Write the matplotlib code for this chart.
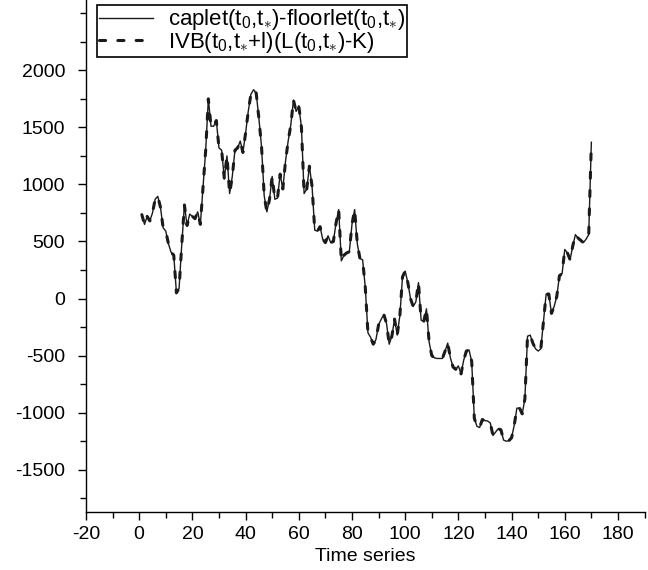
import matplotlib
matplotlib.use("Agg")
import matplotlib.pyplot as plt
import numpy as np

plt.rcParams['font.family'] = ['Liberation Sans', 'DejaVu Sans']
plt.rcParams['mathtext.fontset'] = 'custom'
plt.rcParams['mathtext.rm'] = 'Liberation Sans'
plt.rcParams['mathtext.it'] = 'Liberation Sans'
plt.rcParams['mathtext.default'] = 'rm'
plt.rcParams['axes.unicode_minus'] = False

# time index
t = np.arange(1, 171)

# caplet - floorlet values
caplet_floorlet = [
    735, 650, 720, 680, 750, 870, 895, 800, 620, 590,
    480, 405, 380, 50, 90, 470, 820, 640, 740, 720,
    700, 760, 650, 980, 1300, 1750, 1510, 1510, 1560, 1320,
    1300, 1050, 1250, 920, 1070, 1300, 1320, 1380, 1280, 1450,
    1640, 1790, 1830, 1800, 1580, 1330, 900, 760, 870, 1070,
    870, 880, 1090, 960, 1200, 1380, 1520, 1740, 1640, 1690,
    1500, 920, 960, 1160, 980, 600, 590, 630, 520, 490,
    550, 490, 500, 660, 780, 330, 380, 400, 410, 650,
    780, 480, 350, 340, 100, -300, -340, -400, -360, -230,
    -180, -140, -220, -400, -330, -180, -320, -150, 190, 240,
    140, 0, -70, -30, 140, -190, -200, -90, -380, -500,
    -520, -525, -525, -525, -460, -390, -520, -600, -620, -590,
    -660, -540, -460, -450, -550, -1050, -1120, -1130, -1060, -1070,
    -1073, -1090, -1200, -1170, -1140, -1150, -1240, -1250, -1245, -1220,
    -1110, -960, -960, -1010, -880, -330, -320, -390, -440, -460,
    -440, -200, 40, 40, -130, -70, 20, 200, 220, 430,
    400, 340, 460, 560, 530, 510, 490, 520, 560, 1370,
]
# IVB approximation (coincides with the exact value)
ivb = list(caplet_floorlet)

label1 = r'caplet(t$_0$,t$_{\ast}$)-floorlet(t$_0$,t$_{\ast}$)'
label2 = r'IVB(t$_0$,t$_{\ast}$+l)(L(t$_0$,t$_{\ast}$)-K)'

fig = plt.figure(figsize=(6.48, 5.70), dpi=100)
ax = fig.add_axes([0.1327, 0.1018, 0.862, 0.8982])

ax.plot(t, caplet_floorlet, color='#1a1a1a', lw=1.0, label=label1)
ax.plot(t, ivb, color='#1a1a1a', lw=2.2, dashes=(2.0, 4.0),
        dash_capstyle='round', label=label2)

ax.set_xlim(-20, 190)
ax.set_ylim(-1870, 2616)
ax.set_xticks(np.arange(-20, 181, 20))
ax.set_xticks(np.arange(-10, 191, 10), minor=True)
ax.set_yticks(np.arange(-1500, 2001, 500))
ax.set_yticks(np.arange(-1750, 2501, 250), minor=True)

for s in ['top', 'right']:
    ax.spines[s].set_visible(False)
for s in ['left', 'bottom']:
    ax.spines[s].set_linewidth(1.0)

ax.tick_params(which='major', direction='out', length=6, width=1.0,
               labelsize=14)
ax.tick_params(axis='y', which='major', pad=9)
ax.tick_params(axis='x', which='major', pad=4)
ax.tick_params(which='minor', direction='out', length=4, width=1.0)
ax.set_xlabel('Time series', fontsize=14, labelpad=4)

leg = ax.legend(loc='upper left', bbox_to_anchor=(0.02, 0.99),
                fontsize=16, frameon=True, fancybox=False, framealpha=1,
                edgecolor='black', handlelength=2.4, borderpad=0.1,
                labelspacing=-0.1, handletextpad=0.7, borderaxespad=0)
leg.get_frame().set_linewidth(1.2)

fig.savefig('out.png', dpi=100)
